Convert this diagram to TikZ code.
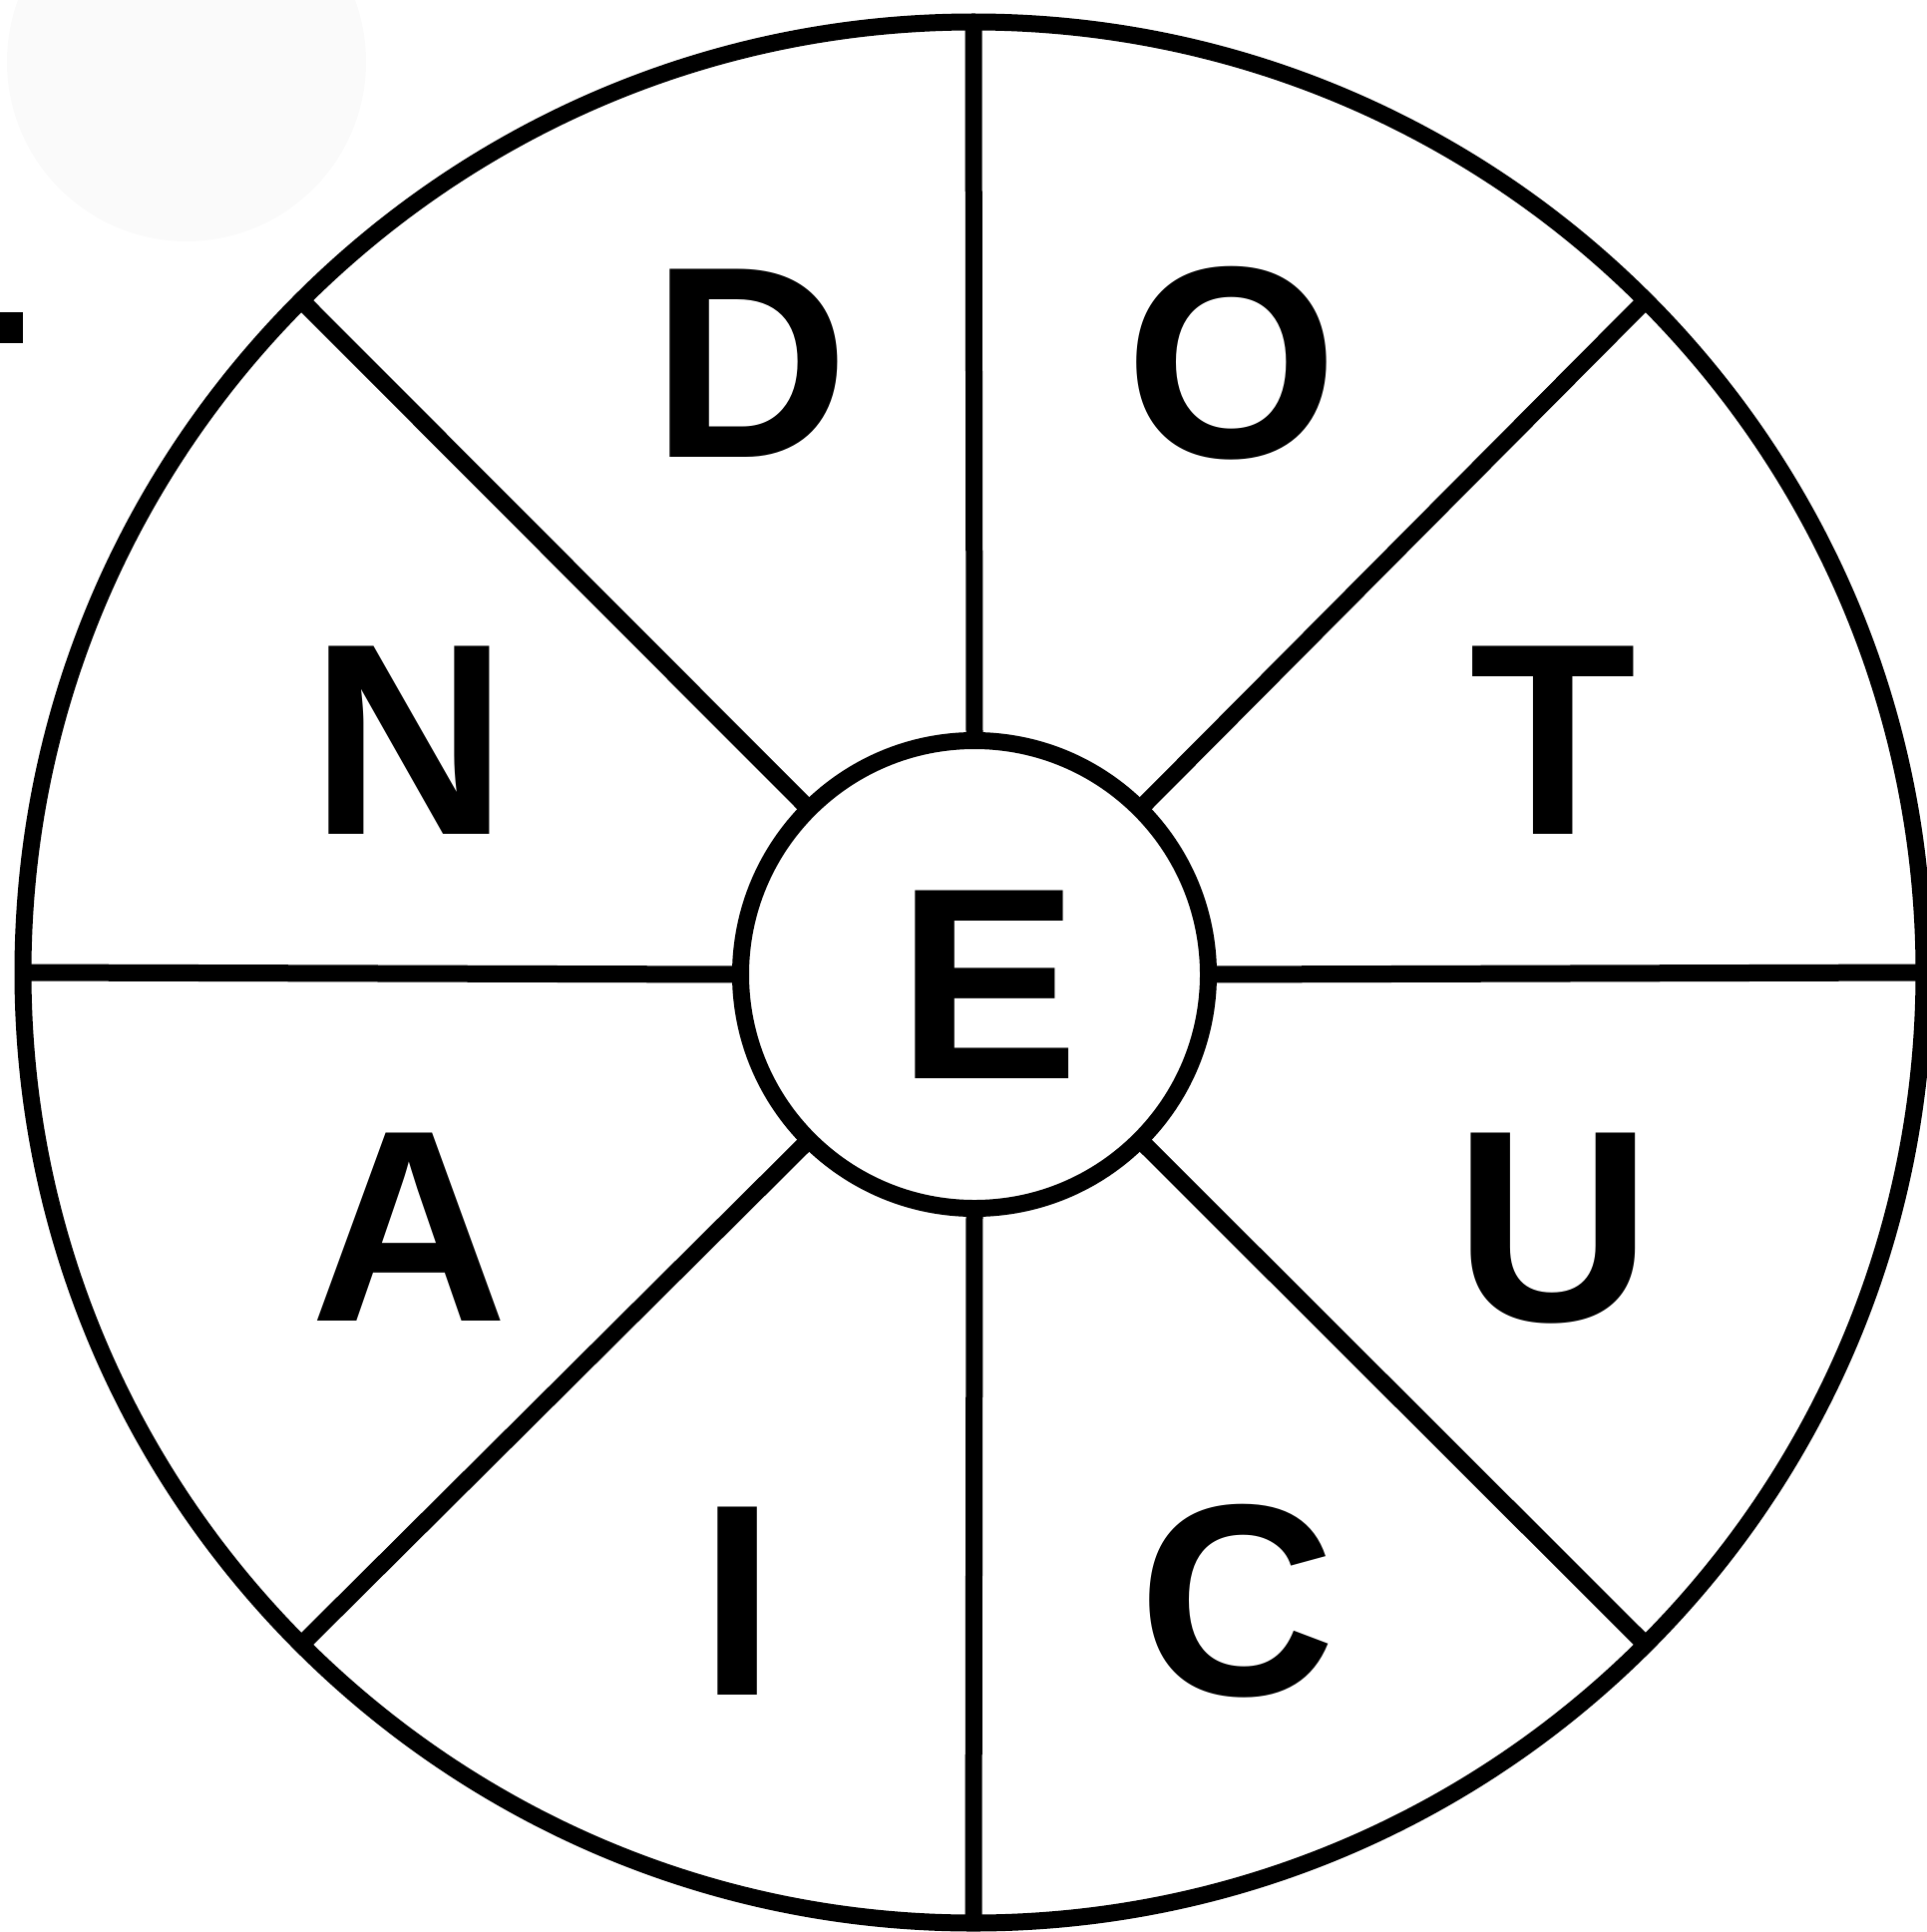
\documentclass[tikz,border=0pt]{standalone}
\usepackage{fontspec}
\setmainfont{Liberation Sans}
\begin{document}
\begin{tikzpicture}[x=1pt, y=-1pt,
    ring/.style={circle, draw, line width=17pt, inner sep=0pt, outer sep=0pt},
    spoke/.style={line width=17pt},
    letter/.style={font=\bfseries\fontsize{274}{274}\selectfont, inner sep=0pt, anchor=base}]

  \useasboundingbox (0,0) rectangle (1931,1937);

  % -------------------------
  % Leftovers at the edge
  % -------------------------
  \fill[black!2] (187,62) circle (180pt);
  \fill (0,313) rectangle (23,344);

  % -------------------------
  % Wheel
  % -------------------------
  \node[ring, minimum size=1906pt] (rim) at (976,975) {};
  \node[ring, minimum size=469pt] (hub) at (977,977) {};

  \foreach \a in {0,45,...,315}
    \draw[spoke] (hub.\a) -- (rim.\a);

  % -------------------------
  % Letters
  % -------------------------
  \node[letter] (lD) at (752,458) {D};
  \node[letter] (lO) at (1235,458) {O};
  \node[letter] (lN) at (410,836) {N};
  \node[letter] (lT) at (1557,836) {T};
  \node[letter] (lE) at (991,1081) {E};
  \node[letter] (lA) at (410,1324) {A};
  \node[letter] (lU) at (1557,1324) {U};
  \node[letter] (lI) at (740,1699) {I};
  \node[letter] (lC) at (1240,1699) {C};

\end{tikzpicture}
\end{document}
